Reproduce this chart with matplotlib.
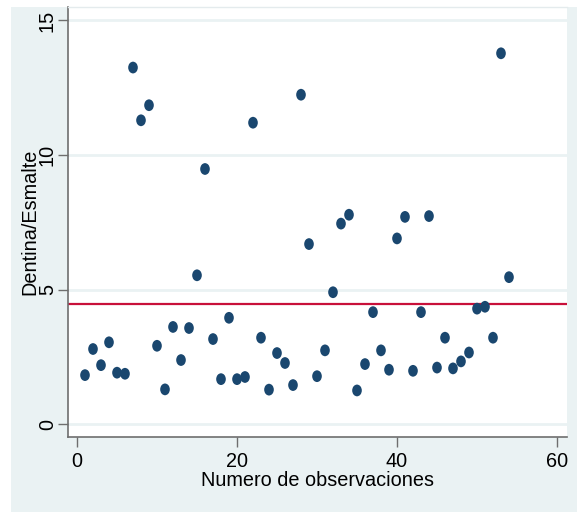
import numpy as np
import matplotlib
matplotlib.use("Agg")
import matplotlib.pyplot as plt
from matplotlib.markers import MarkerStyle
from matplotlib.transforms import Affine2D
from matplotlib.patches import Rectangle

# Ratio Dentina/Esmalte for each observation
observacion = list(range(1, 55))
ratio = [1.82, 2.79, 2.19, 3.04, 1.91, 1.87, 13.25, 11.29, 11.85, 2.91,
         1.29, 3.61, 2.38, 3.57, 5.53, 9.48, 3.16, 1.67, 3.95, 1.67,
         1.75, 11.20, 3.21, 1.28, 2.64, 2.27, 1.45, 12.24, 6.69, 1.78,
         2.74, 4.90, 7.45, 7.78, 1.25, 2.23, 4.16, 2.74, 2.02, 6.90,
         7.70, 1.98, 4.16, 7.73, 2.10, 3.21, 2.07, 2.33, 2.66, 4.29,
         4.36, 3.21, 13.78, 5.46]
x_ticks = [0, 20, 40, 60]
y_ticks = [0, 5, 10, 15]

W, H = 577, 512
BG = "#eaf2f3"
NAVY = "#1a476f"
RED = "#c8103a"
AXIS = "#6e6e6e"
FS = 14.3

plt.rcParams["font.family"] = ["Liberation Sans", "DejaVu Sans"]

fig = plt.figure(figsize=(W / 100, H / 100), dpi=100, facecolor="white")
fig.patches.append(Rectangle((11 / W, 0), 1 - 11 / W, (H - 7) / H,
                             transform=fig.transFigure, facecolor=BG,
                             edgecolor="none", zorder=-10))

ax = fig.add_axes([68 / W, (H - 437) / H, (567 - 68) / W, (437 - 7) / H])
ax.set_facecolor("white")
ax.set_xlim(-1.125, 61.25)
ax.set_ylim(-0.48, 15.5)

for yv in y_ticks:
    ax.axhline(yv, color=BG, lw=2.0, zorder=1)

ax.axhline(np.mean(ratio), color=RED, lw=1.6, zorder=2)

marker = MarkerStyle("o", transform=Affine2D().scale(1.0, 1.22))
ax.scatter(observacion, ratio, s=48, marker=marker, color=NAVY,
           edgecolors="none", zorder=3)

ax.set_xticks(x_ticks)
ax.set_yticks(y_ticks)
ax.set_yticklabels([str(v) for v in y_ticks], rotation=90, va="center")
ax.tick_params(axis="both", colors=AXIS, labelcolor="black", labelsize=FS,
               length=7, width=1)
ax.tick_params(axis="x", pad=4)
ax.tick_params(axis="y", pad=1)

ax.spines["right"].set_visible(False)
ax.spines["top"].set_color("#e4ebed")
ax.spines["top"].set_linewidth(1)
ax.spines["left"].set_color(AXIS)
ax.spines["bottom"].set_color(AXIS)
ax.spines["left"].set_linewidth(1.2)
ax.spines["bottom"].set_linewidth(1.2)

ax.set_xlabel("Numero de observaciones", fontsize=FS, labelpad=0)
ax.set_ylabel("Dentina/Esmalte", fontsize=FS, labelpad=-1)

fig.savefig("out.png", dpi=100, facecolor="white")
